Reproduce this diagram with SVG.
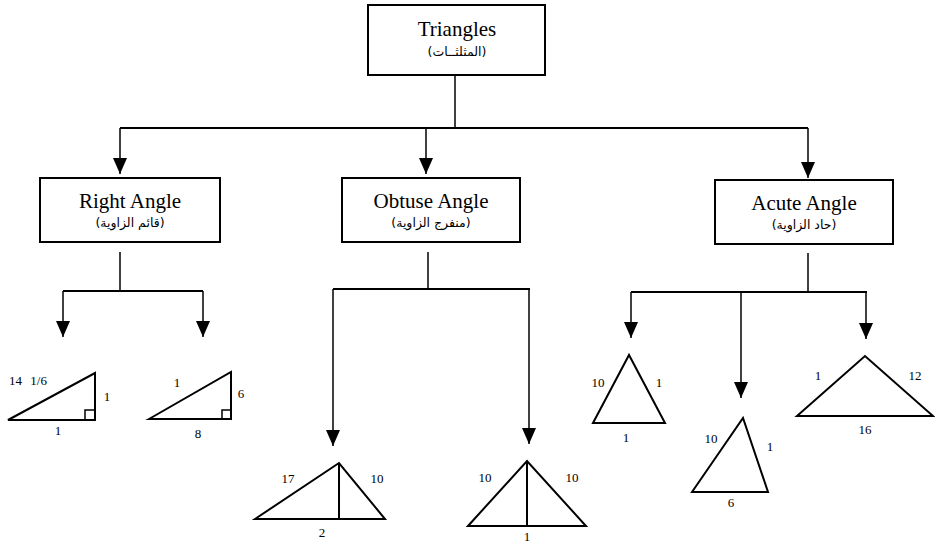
<svg xmlns="http://www.w3.org/2000/svg" width="935" height="543" viewBox="0 0 935 543">
<style>
.box{fill:#fff;stroke:#000;stroke-width:2}
.en{font-family:"Liberation Serif","Times New Roman",serif;font-size:21px;text-anchor:middle;fill:#000}
.ar{font-family:"DejaVu Sans","Noto Sans",sans-serif;font-size:12.5px;text-anchor:middle;fill:#000}
.num{font-family:"Liberation Serif","Times New Roman",serif;font-size:13px;text-anchor:middle;fill:#000}
.tri{fill:none;stroke:#000;stroke-width:2;stroke-linejoin:miter}
.ln{fill:none;stroke:#000;stroke-width:1.5}
.bar{fill:none;stroke:#000;stroke-width:2}
.arr{fill:none;stroke:#000;stroke-width:1.5;marker-end:url(#ah)}
</style>
<defs>
<marker id="ah" viewBox="0 0 16 14" refX="16" refY="7" markerWidth="16" markerHeight="14" markerUnits="userSpaceOnUse" orient="auto">
<path d="M0,0 L16,7 L0,14 z" fill="#000"/>
</marker>
</defs>
<rect width="935" height="543" fill="#fff"/>

<g id="connectors">
<path class="ln" d="M455,75 V128"/>
<path class="bar" d="M120,128 H808"/>
<path class="arr" d="M120,128 V174"/>
<path class="arr" d="M426,128 V174"/>
<path class="arr" d="M808,128 V178"/>

<path class="ln" d="M120,252 V291"/>
<path class="bar" d="M63,291 H203"/>
<path class="arr" d="M63,291 V337"/>
<path class="arr" d="M203,291 V337"/>

<path class="ln" d="M428,252 V289"/>
<path class="bar" d="M333,289 H530"/>
<path class="arr" d="M333,289 V446"/>
<path class="arr" d="M529,289 V444"/>

<path class="ln" d="M808,253 V292"/>
<path class="bar" d="M631,292 H867"/>
<path class="arr" d="M631,292 V338"/>
<path class="arr" d="M741,292 V398"/>
<path class="arr" d="M866,292 V339"/>
</g>

<g id="n-triangles">
<rect class="box" x="368" y="5" width="177" height="70"/>
<text class="en" x="457" y="36">Triangles</text>
<text class="ar" x="457" y="56" direction="rtl">(المثلثــات)</text>
</g>

<g id="n-right">
<rect class="box" x="40" y="178" width="180" height="64"/>
<text class="en" x="130" y="208">Right Angle</text>
<text class="ar" x="130" y="227" direction="rtl">(قائم الزاوية)</text>
</g>

<g id="n-obtuse">
<rect class="box" x="342" y="178" width="178" height="64"/>
<text class="en" x="431" y="208">Obtuse Angle</text>
<text class="ar" x="431" y="227" direction="rtl">(منفرج الزاوية)</text>
</g>

<g id="n-acute">
<rect class="box" x="715" y="180" width="178" height="64"/>
<text class="en" x="804" y="210">Acute Angle</text>
<text class="ar" x="804" y="229" direction="rtl">(حاد الزاوية)</text>
</g>

<g id="t-right-1">
<path class="tri" d="M8,420 L95,373 L95,420 Z"/>
<path class="tri" style="stroke-width:1.5" d="M85,420 V410 H95"/>
<text class="num" x="28" y="385" word-spacing="5">14 1/6</text>
<text class="num" x="107" y="401">1</text>
<text class="num" x="58" y="435">1</text>
</g>

<g id="t-right-2">
<path class="tri" d="M149,419 L231,372 L231,419 Z"/>
<path class="tri" style="stroke-width:1.5" d="M222,419 V410 H231"/>
<text class="num" x="177" y="387">1</text>
<text class="num" x="241" y="398">6</text>
<text class="num" x="198" y="438">8</text>
</g>

<g id="t-obtuse-1">
<path class="tri" d="M255,519 L339,463 L385,519 Z"/>
<path class="tri" d="M339,463 V519"/>
<text class="num" x="288" y="483">17</text>
<text class="num" x="377" y="483">10</text>
<text class="num" x="322" y="537">2</text>
</g>

<g id="t-obtuse-2">
<path class="tri" d="M468,526 L527,461 L586,526 Z"/>
<path class="tri" d="M527,461 V526"/>
<text class="num" x="485" y="482">10</text>
<text class="num" x="572" y="482">10</text>
<text class="num" x="527" y="541">1</text>
</g>

<g id="t-acute-1">
<path class="tri" d="M593,423 L629,355 L665,423 Z"/>
<text class="num" x="598" y="387">10</text>
<text class="num" x="659" y="387">1</text>
<text class="num" x="626" y="442">1</text>
</g>

<g id="t-acute-2">
<path class="tri" d="M692,492 L743,418 L768,492 Z"/>
<text class="num" x="711" y="443">10</text>
<text class="num" x="770" y="451">1</text>
<text class="num" x="731" y="507">6</text>
</g>

<g id="t-acute-3">
<path class="tri" d="M797,416 L865,356 L933,416 Z"/>
<text class="num" x="818" y="380">1</text>
<text class="num" x="915" y="380">12</text>
<text class="num" x="865" y="434">16</text>
</g>
</svg>
